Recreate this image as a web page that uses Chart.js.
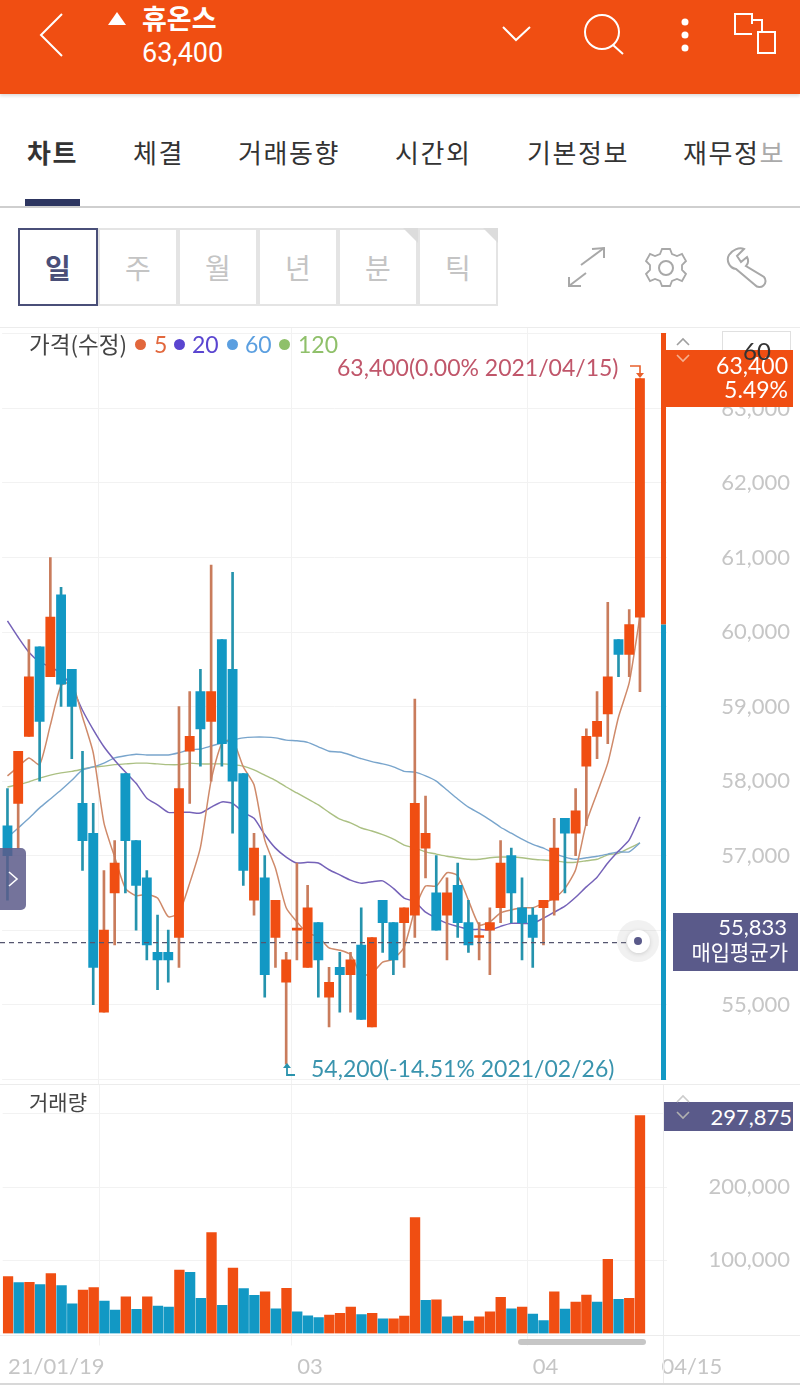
<html>
	<head>
		<meta charset="utf-8">
		<script src="https://cdn.jsdelivr.net/npm/chart.js@4"></script>
		<script>
			// trading days shown on the chart
			var dates = ["01/19","01/20","01/21","01/22","01/25","01/26","01/27","01/28","01/29",
				"02/01","02/02","02/03","02/04","02/05","02/08","02/09","02/10","02/15","02/16","02/17","02/18","02/19","02/22","02/23","02/24","02/25","02/26",
				"03/02","03/03","03/04","03/05","03/08","03/09","03/10","03/11","03/12","03/15","03/16","03/17","03/18","03/19","03/22","03/23","03/24","03/25","03/26","03/29","03/30","03/31",
				"04/01","04/02","04/05","04/06","04/07","04/08","04/09","04/12","04/13","04/14","04/15"];

			var opens = [57400,57700,58600,59800,59400,60500,59500,57700,57300,54900,56500,58100,57200,56700,55700,55700,55900,58400,59200,58800,59900,59500,58100,56400,56700,55900,55300,56000,55500,56100,
				55100,55500,55400,55800,54700,56400,56100,56100,56200,57100,56500,56200,56600,56100,55900,56000,56300,57000,56300,56200,56300,56400,57500,57300,58200,58600,58900,59900,59700,60200];
			var highs = [57900,58400,59900,59800,61000,60600,59500,58400,57700,56800,57200,58100,57200,56800,56200,56000,59000,59200,59500,60900,59900,60800,58100,57300,57000,56400,55700,56900,56600,56100,
				55500,55700,55700,56300,55900,56400,56100,56300,59100,57800,57000,56700,56900,56400,56100,56300,57200,57100,56700,56300,56400,57500,57500,57900,58700,59200,60400,59900,60300,63400];
			var lows = [56400,57100,58600,58000,59400,59000,58300,56800,55000,54900,55800,56500,56000,55600,55200,55300,55500,57700,58200,58000,58200,57300,56600,56200,55100,55500,54200,55600,55500,55100,
				54700,54900,54900,54800,54700,55700,55400,55500,55900,56700,56000,55600,55900,55700,55600,55400,56100,56100,55600,55500,55800,56200,56500,57000,57400,58300,58500,59400,59400,59200];
			var closes = [57000,58400,59400,58800,60200,59300,59000,57200,55500,56000,56900,57200,56600,55800,55600,55600,57900,58600,58700,59200,58500,58000,56800,57100,55400,56400,55600,56000,56300,55600,
				55300,55400,55600,54800,55900,56100,55600,56300,57700,57300,56000,56500,56100,55800,55900,56100,56900,56500,56100,55900,56400,57100,57300,57600,58600,58800,59400,59700,60100,63400];

			var ma5 = [58070,58190,58310,58220,58750,59280,59320,58860,58380,57440,56980,56560,56460,56480,56430,56180,56230,56630,57110,58010,58510,58550,58190,57950,57210,56830,56300,56110,55960,55910,
				55760,55730,55670,55400,55420,55570,55610,55770,56270,56590,56590,56770,56730,56400,56070,56110,56230,56270,56300,56300,56360,56430,56560,56810,57440,57840,58240,58860,59320,60210];
			var ma20 = [60150,59930,59730,59600,59530,59450,59260,58950,58690,58460,58280,58120,57970,57770,57680,57580,57580,57580,57570,57650,57720,57700,57580,57500,57280,57100,56980,56900,56910,56900,
				56810,56740,56670,56630,56650,56660,56560,56430,56380,56240,56160,56090,56050,56010,56010,56000,56050,56090,56090,56090,56160,56240,56320,56440,56580,56710,56900,57060,57210,57520];
			var ma60 = [57240,57370,57500,57640,57760,57880,58010,58150,58190,58240,58310,58340,58360,58350,58350,58350,58380,58420,58430,58470,58510,58550,58580,58590,58590,58580,58550,58540,58520,58460,
				58400,58390,58350,58300,58260,58230,58190,58130,58120,58070,58000,57880,57760,57650,57570,57480,57380,57300,57220,57150,57100,57030,56980,56950,56970,56990,57020,57050,57050,57170];
			var ma120 = [57920,57950,57990,58040,58080,58110,58130,58160,58190,58200,58220,58230,58240,58240,58230,58220,58220,58240,58230,58230,58230,58220,58200,58150,58080,58010,57920,57840,57760,57680,
				57580,57490,57440,57370,57330,57280,57220,57140,57100,57050,57020,56990,56970,56950,56950,56970,56980,56980,56970,56950,56940,56930,56910,56910,56930,56950,57010,57030,57100,57170];

			var volumes = [77600,69400,69900,66700,81700,65300,40600,59400,62600,44300,32000,50200,32900,50200,37400,36100,86800,83600,47900,137900,38400,89500,61200,52100,57100,33800,61600,29700,24200,21900,
				25100,27400,36100,26000,27400,20100,20100,23700,158400,45200,46100,22800,23700,16900,22800,29700,49300,33800,36100,26500,17800,57100,33300,42900,52500,42900,101400,46600,47900,297875];
			var volumeUp = [1,0,1,0,1,0,0,1,1,0,0,1,0,1,0,0,1,0,0,1,0,1,0,0,1,0,1,0,0,0,
				1,1,1,0,1,0,1,1,1,0,1,0,1,0,1,1,1,0,1,0,0,1,0,1,1,0,1,0,1,1];

			var monthStarts = [9,27,49];
			var xTickIndex = [0,27,49,61];
			var xTickText = ["21/01/19","03","04","04/15"];
			var priceGrid = [54000,55000,56000,57000,58000,59000,60000,61000,62000,63000,64000];
			var priceTicks = [55000,56000,57000,58000,59000,60000,61000,62000,63000];
			var volumeGrid = [100000,200000,300000];
			var volumeTicks = [100000,200000];
			var avgPrice = 55833;
			var lastOpen = 60100;

			var UP = "#f04e12";
			var DOWN = "#1298c4";
			var UP_WICK = "#c97c5c";
			var DOWN_WICK = "#2593ad";
			var GRID = "#f2f2f2";
			var TICK = "#c6c6c6";
			var NUM_FONT = "Lato";

			var labels = dates.concat(["",""]);

			function isUp(i) {
				return closes[i] >= opens[i];
			}

			function fmt(v) {
				return v.toLocaleString("en-US");
			}

			function toTicks(values) {
				return values.map(function(v) { return { value: v }; });
			}

			// fixed width for the right axis, and no extra room above and below the plot
			function fitValueAxis(scale) {
				scale.width = 123.26;
				scale.paddingTop = 0;
				scale.paddingBottom = 0;
			}

			function monthGrid(ctx) {
				return monthStarts.indexOf(ctx.index) >= 0 ? GRID : "transparent";
			}

			// dashed purchase price line and the coloured bar at the right edge of the price pane
			var pricePlugin = {
				id: "priceMarks",
				afterDatasetsDraw: function(chart) {
					var c = chart.ctx;
					var y = chart.scales.y;
					var yAvg = y.getPixelForValue(avgPrice);
					c.save();
					c.strokeStyle = "#55566f";
					c.lineWidth = 1.2;
					c.setLineDash([5,4]);
					c.beginPath();
					c.moveTo(0,yAvg);
					c.lineTo(628,yAvg);
					c.stroke();
					c.setLineDash([]);
					var split = y.getPixelForValue(lastOpen);
					c.fillStyle = UP;
					c.fillRect(661,5,5,split - 5);
					c.fillStyle = DOWN;
					c.fillRect(661,split,5,752 - split);
					c.restore();
				}
			};

			function init() {
				new Chart(document.getElementById("priceChart").getContext("2d"), {
					type: "bar",
					plugins: [pricePlugin],
					data: {
						labels: labels,
						datasets: [
							{ type: "bar", grouped: false, order: 1, barThickness: 9.2, minBarLength: 2,
								data: opens.map(function(o,i) { return [o,closes[i]]; }),
								backgroundColor: opens.map(function(o,i) { return isUp(i) ? UP : DOWN; }) },
							{ type: "bar", grouped: false, order: 2, barThickness: 2,
								data: lows.map(function(l,i) { return [l,highs[i]]; }),
								backgroundColor: lows.map(function(l,i) { return isUp(i) ? UP_WICK : DOWN_WICK; }) },
							{ type: "line", order: 3, data: ma5, borderColor: "#cf8a6a", borderWidth: 1.5, pointRadius: 0, tension: 0.2 },
							{ type: "line", order: 4, data: ma20, borderColor: "#7562b8", borderWidth: 1.5, pointRadius: 0, tension: 0.2 },
							{ type: "line", order: 5, data: ma60, borderColor: "#79a5cc", borderWidth: 1.4, pointRadius: 0, tension: 0.2 },
							{ type: "line", order: 6, data: ma120, borderColor: "#abc083", borderWidth: 1.4, pointRadius: 0, tension: 0.2 }
						]
					},
					options: {
						responsive: false,
						animation: false,
						layout: { padding: { left: 2.1, right: 10, top: 0, bottom: 0 } },
						plugins: { legend: { display: false }, tooltip: { enabled: false } },
						scales: {
							x: {
								offset: true,
								border: { display: false },
								grid: { offset: true, color: monthGrid, drawTicks: false },
								ticks: { display: false, autoSkip: false }
							},
							y: {
								position: "right",
								min: 53921,
								max: 64080,
								afterBuildTicks: function(scale) { scale.ticks = toTicks(priceGrid); },
								afterFit: fitValueAxis,
								border: { display: false },
								grid: { color: GRID, drawTicks: false },
								ticks: {
									autoSkip: false,
									padding: 55,
									crossAlign: "far",
									color: TICK,
									font: { family: NUM_FONT, size: 22 },
									callback: function(v) { return priceTicks.indexOf(v) >= 0 ? fmt(v) : ""; }
								}
							}
						}
					}
				});

				new Chart(document.getElementById("volumeChart").getContext("2d"), {
					type: "bar",
					data: {
						labels: labels,
						datasets: [{
							data: volumes,
							barThickness: 9.7,
							backgroundColor: volumeUp.map(function(u) { return u ? UP : DOWN; })
						}]
					},
					options: {
						responsive: false,
						animation: false,
						layout: { padding: { left: 2.1, right: 10, top: 0, bottom: 0 } },
						plugins: { legend: { display: false }, tooltip: { enabled: false } },
						scales: {
							x: {
								offset: true,
								afterFit: function(scale) { scale.height = 49.5; },
								border: { display: false },
								grid: { offset: true, color: monthGrid, tickLength: 12 },
								ticks: {
									autoSkip: false,
									maxRotation: 0,
									align: "start",
									padding: 8,
									color: TICK,
									font: { family: NUM_FONT, size: 22 },
									callback: function(v,i) {
										var k = xTickIndex.indexOf(i);
										return k >= 0 ? xTickText[k] : "";
									}
								}
							},
							y: {
								position: "right",
								min: 0,
								max: 339500,
								afterBuildTicks: function(scale) { scale.ticks = toTicks(volumeGrid); },
								afterFit: fitValueAxis,
								border: { display: false },
								grid: { color: GRID, drawTicks: false },
								ticks: {
									autoSkip: false,
									padding: 43,
									crossAlign: "far",
									color: TICK,
									font: { family: NUM_FONT, size: 22 },
									callback: function(v) { return volumeTicks.indexOf(v) >= 0 ? fmt(v) : ""; }
								}
							}
						}
					}
				});
			}
		</script>
		<style>
			body { margin: 0; width: 800px; height: 1387px; overflow: hidden; background: #fff; position: relative;
				font-family: "Noto Sans CJK KR", sans-serif; }
			.a { position: absolute; white-space: nowrap; line-height: 1; }
			canvas { position: absolute; left: 0; }
			#priceChart { top: 328px; }
			#volumeChart { top: 1085px; }
			#head { position: absolute; left: 0; top: 0; width: 800px; height: 94px; background: #f04e12; box-shadow: 0 2px 3px #ddd; }
			.tab { font-size: 26px; color: #333; top: 139px; letter-spacing: 1.6px; }
			.per { position: absolute; top: 228px; width: 76px; height: 74px; border: 2px solid #e4e4e4; color: #c4c4c4;
				font-size: 28px; line-height: 74px; text-align: center; }
			.corner { position: absolute; top: 228px; width: 0; height: 0; border-left: 15px solid transparent; border-top: 15px solid #dcdcdc; }
			.line { position: absolute; left: 0; width: 800px; }
			.leg { top: 333px; font-family: Lato; font-size: 23px; }
			.dot { position: absolute; top: 339px; width: 11px; height: 11px; border-radius: 50%; }
			.box { position: absolute; background: #5a5a8a; }
			svg { position: absolute; overflow: visible; fill: none; }
		</style>
	</head>
	<body onload="init()">
		<canvas id="priceChart" width="800" height="757"></canvas>
		<canvas id="volumeChart" width="800" height="298"></canvas>

		<div id="head"></div>
		<svg style="left:0;top:0" width="800" height="94" stroke="#fff" stroke-width="2">
			<polyline points="62,14 41,35 62,56"/>
			<polygon points="117,12 126,25 108,25" fill="#fff" stroke="none"/>
			<polyline points="503,27 516,40 530,27"/>
			<circle cx="602" cy="32" r="17"/>
			<line x1="613" y1="45" x2="623" y2="54"/>
			<circle cx="685" cy="22" r="3.5" fill="#fff" stroke="none"/>
			<circle cx="685" cy="35" r="3.5" fill="#fff" stroke="none"/>
			<circle cx="685" cy="48" r="3.5" fill="#fff" stroke="none"/>
			<polyline points="752,34 735,34 735,14 752,14 752,24"/>
			<rect x="758" y="32" width="17" height="21"/>
			<polyline points="752,20 762,20 762,32"/>
		</svg>
		<div class="a" style="left:142px;top:4px;font-size:27px;font-weight:700;color:#fff">휴온스</div>
		<div class="a" style="left:142px;top:40px;font-size:27px;color:#fff;font-family:Roboto">63,400</div>

		<div class="a tab" style="left:27px;font-weight:700">차트</div>
		<div class="a tab" style="left:133px">체결</div>
		<div class="a tab" style="left:238px">거래동향</div>
		<div class="a tab" style="left:395px">시간외</div>
		<div class="a tab" style="left:527px">기본정보</div>
		<div class="a tab" style="left:683px">재무정<span style="color:#aaa">보</span></div>
		<div class="line" style="top:206px;height:2px;background:#cfcfcf"></div>
		<div style="position:absolute;left:25px;top:199px;width:55px;height:7px;background:#2d3560"></div>

		<div class="per" style="left:98px">주</div>
		<div class="per" style="left:178px">월</div>
		<div class="per" style="left:258px">년</div>
		<div class="per" style="left:338px">분</div>
		<div class="per" style="left:418px">틱</div>
		<div class="corner" style="left:403px"></div>
		<div class="corner" style="left:483px"></div>
		<div class="per" style="left:18px;border-color:#4a4f78;color:#4a4f78;font-weight:700">일</div>

		<svg style="left:0;top:228px" width="800" height="80" stroke="#a8a8a8" stroke-width="2">
			<polyline points="592,21 604,20 604,30"/>
			<line x1="604" y1="20" x2="581" y2="37"/>
			<polyline points="569,49 569,58 581,58"/>
			<line x1="569" y1="58" x2="586" y2="45"/>
			<circle cx="666" cy="40" r="7"/>
			<path d="M662 21 h8 l2 5 l5 2 l5 -2 l4 7 l-4 4 v5 l4 4 l-4 7 l-5 -2 l-5 2 l-2 5 h-8 l-2 -5 l-5 -2 l-5 2 l-4 -7 l4 -4 v-5 l-4 -4 l4 -7 l5 2 l5 -2 z" stroke-width="1.8"/>
			<path d="M744 21 L737 28 L741 34 L747 29 C749 33 748 36 746 38 L764 49 A6 6 0 0 1 755 57 L736 41 C729 40 726 32 729 27 C732 22 739 19 744 21 Z"/>
		</svg>

		<div class="line" style="top:327px;height:1px;background:#ececec"></div>
		<div class="line" style="top:1084px;height:1px;background:#ececec"></div>
		<div class="line" style="top:1335px;height:1px;background:#ececec"></div>
		<div class="line" style="top:1383px;height:2px;background:#d8d8d8"></div>
		<div style="position:absolute;left:663px;top:1085px;width:1px;height:298px;background:#ececec"></div>

		<div class="a" style="left:29px;top:332px;font-size:22.5px;color:#444">가격(수정)</div>
		<div class="dot" style="left:135px;background:#e2673c"></div>
		<div class="a leg" style="left:154px;color:#e2673c">5</div>
		<div class="dot" style="left:174px;background:#5a45d0"></div>
		<div class="a leg" style="left:192px;color:#5a45d0">20</div>
		<div class="dot" style="left:227px;background:#5b9fe0"></div>
		<div class="a leg" style="left:245px;color:#5b9fe0">60</div>
		<div class="dot" style="left:279px;background:#8fc06a"></div>
		<div class="a leg" style="left:298px;color:#8fc06a">120</div>

		<div class="a" style="left:337px;top:356px;font-family:Lato;font-size:23px;color:#c0566a">63,400(0.00% 2021/04/15)</div>
		<svg style="left:0;top:0" width="800" height="400" stroke="#e8602c" stroke-width="1.6">
			<polyline points="630,366 640,366 640,375"/>
			<polygon points="636,373 644,373 640,378" fill="#e8602c" stroke="none"/>
		</svg>
		<div class="a" style="left:311px;top:1057px;font-family:Lato;font-size:23px;color:#3a94ae">54,200(-14.51% 2021/02/26)</div>
		<svg style="left:0;top:1060px" width="400" height="20" stroke="#2a93ad" stroke-width="1.8">
			<polyline points="287,6 287,15 295,15"/>
			<polygon points="283,8 291,8 287,3" fill="#2a93ad" stroke="none"/>
		</svg>

		<div style="position:absolute;left:722px;top:331px;width:67px;height:30px;border:1px solid #e0e0e0;border-bottom:none"></div>
		<div class="box" style="left:666px;top:350px;width:127px;height:57px;background:#f04e12"></div>
		<div class="a" style="right:12px;top:354px;font-family:Lato;font-size:23px;color:#fff">63,400</div>
		<div class="a" style="right:12px;top:378px;font-family:Lato;font-size:23px;color:#fff">5.49%</div>
		<div class="a" style="left:743px;top:339px;font-family:Lato;font-size:24px;color:#333">60</div>
		<svg style="left:0;top:0" width="800" height="400" stroke="#a0a0a0" stroke-width="1.6">
			<polyline points="677,345 683,339 689,345"/>
			<polyline points="677,355 683,361 689,355" stroke="#f6b090"/>
		</svg>

		<div class="box" style="left:673px;top:913px;width:125px;height:58px"></div>
		<div class="a" style="right:13px;top:916px;font-family:Lato;font-size:22px;color:#fff">55,833</div>
		<div class="a" style="right:12px;top:941px;font-size:21px;color:#fff">매입평균가</div>

		<div style="position:absolute;left:617px;top:920px;width:42px;height:42px;border-radius:50%;background:rgba(170,170,170,0.16)"></div>
		<div style="position:absolute;left:627px;top:930px;width:23px;height:23px;border-radius:50%;background:#fff;box-shadow:0 1px 4px rgba(0,0,0,0.15)"></div>
		<div style="position:absolute;left:634px;top:937px;width:8px;height:8px;border-radius:50%;background:#5a5a8a"></div>

		<div style="position:absolute;left:0;top:848px;width:26px;height:62px;border-radius:0 5px 5px 0;background:rgba(92,90,138,0.85)"></div>
		<svg style="left:0;top:848px" width="30" height="62" stroke="#fff" stroke-width="1.6">
			<polyline points="9,24 17,31 9,38"/>
		</svg>

		<div class="a" style="left:29px;top:1091px;font-size:21px;color:#444">거래량</div>
		<div class="box" style="left:664px;top:1102px;width:129px;height:29px"></div>
		<div class="a" style="right:8px;top:1106px;font-family:Lato;font-size:22px;color:#fff">297,875</div>
		<svg style="left:0;top:1085px" width="800" height="60" stroke="#b0b0b0" stroke-width="1.6">
			<polyline points="677,27 683,33 689,27"/>
			<polyline points="677,17 683,11 689,17" stroke="#ccc"/>
		</svg>
		<div style="position:absolute;left:518px;top:1339px;width:128px;height:6px;border-radius:3px;background:#c6c6c6"></div>
	</body>
</html>
